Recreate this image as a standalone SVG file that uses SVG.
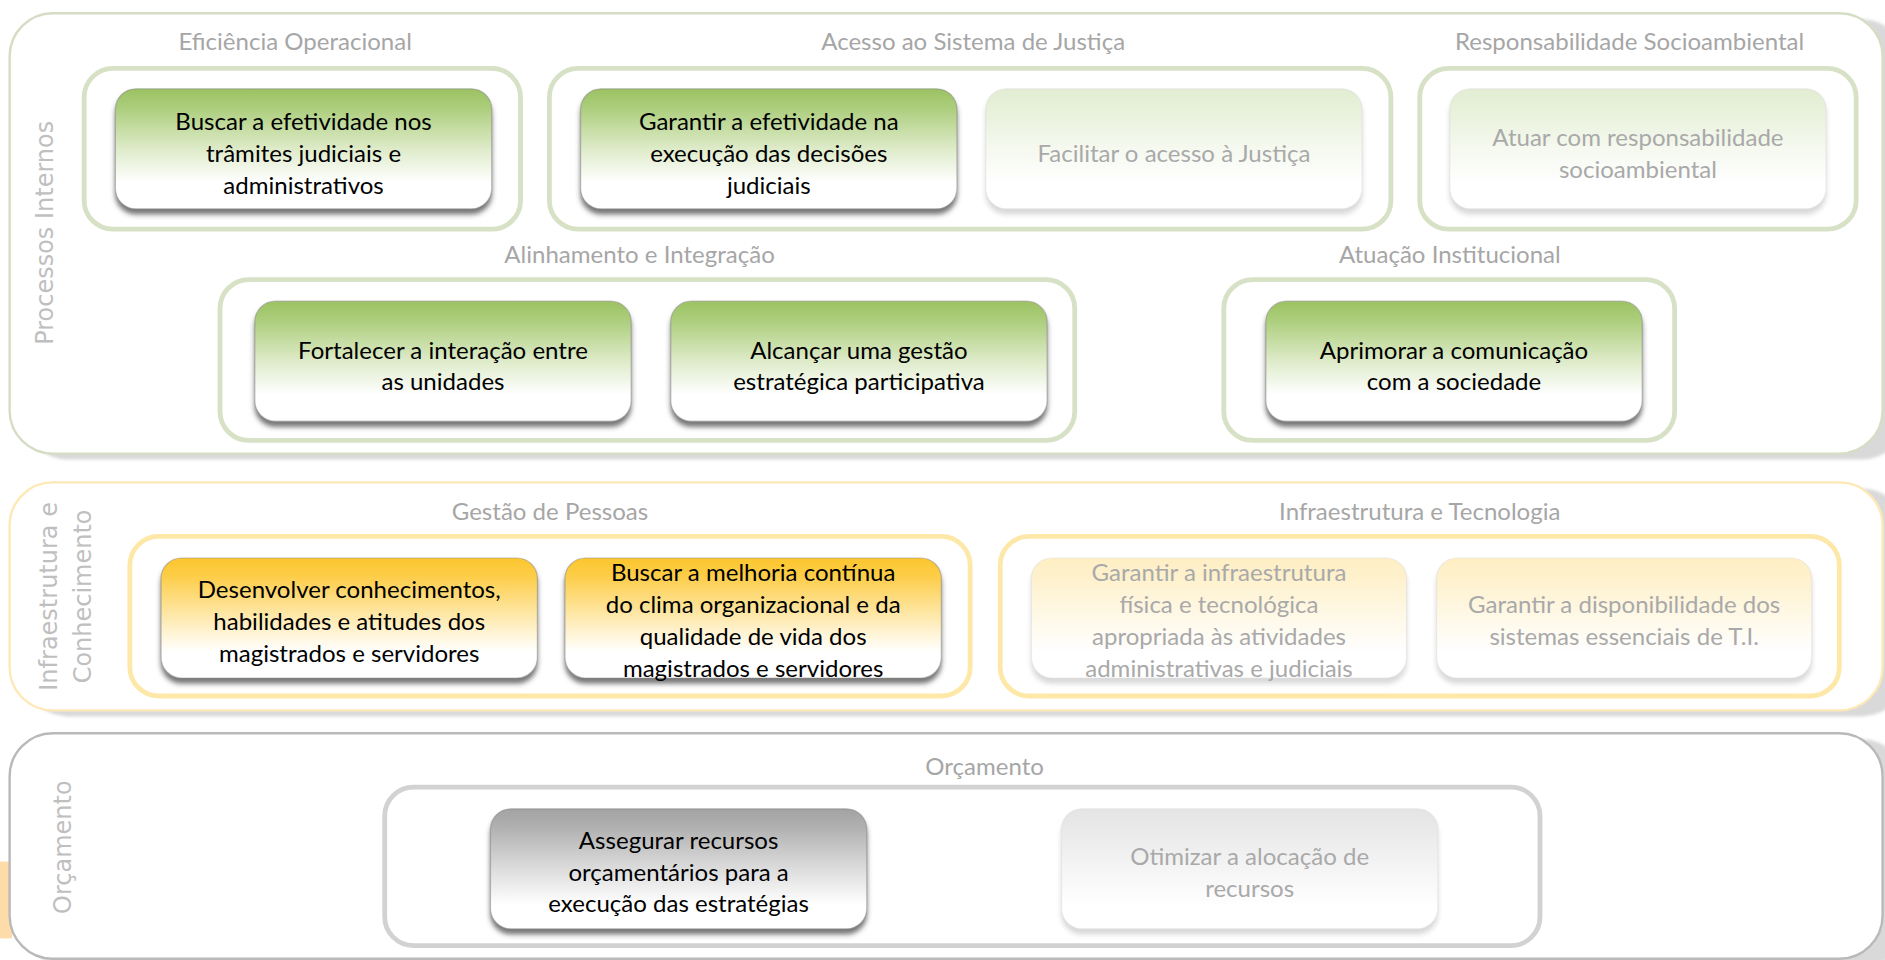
<svg xmlns="http://www.w3.org/2000/svg" width="1885" height="960" viewBox="0 0 1885 960">
<defs>
<linearGradient id="gGreen" x1="0" y1="0" x2="0" y2="1">
<stop offset="0" stop-color="#9cc263"/><stop offset="0.15" stop-color="#abcd7a"/><stop offset="0.5" stop-color="#deebc9"/><stop offset="0.78" stop-color="#ffffff"/><stop offset="1" stop-color="#ffffff"/>
</linearGradient>
<linearGradient id="gYellow" x1="0" y1="0" x2="0" y2="1">
<stop offset="0" stop-color="#fcc62e"/><stop offset="0.15" stop-color="#fdcd48"/><stop offset="0.5" stop-color="#feeab0"/><stop offset="0.78" stop-color="#ffffff"/><stop offset="1" stop-color="#ffffff"/>
</linearGradient>
<linearGradient id="gGray" x1="0" y1="0" x2="0" y2="1">
<stop offset="0" stop-color="#a3a3a3"/><stop offset="0.15" stop-color="#b0b0b0"/><stop offset="0.5" stop-color="#dcdcdc"/><stop offset="0.8" stop-color="#ffffff"/><stop offset="1" stop-color="#ffffff"/>
</linearGradient>
<filter id="nodeShadow" x="-10%" y="-10%" width="120%" height="130%">
<feDropShadow dx="0" dy="4.5" stdDeviation="2.3" flood-color="#3a3a3a" flood-opacity="0.7"/>
</filter>
<filter id="panelShadow" x="-5%" y="-10%" width="110%" height="130%">
<feGaussianBlur stdDeviation="1.5"/>
</filter>
<style>
.panelShadow{fill:#d9d9d9;filter:url(#panelShadow)}
.panel{fill:#ffffff;stroke-width:2}
.pGreen{stroke:#d5ddc4}
.pYellow{stroke:#fde9b6}
.pGray{stroke:#b9b9b9}
.grp{fill:#ffffff;stroke-width:4}
.grpGreen{stroke:#d7e1c5}
.grpYellow{stroke:#fee8a8}
.grpGray{stroke:#d2d2d2}
.node{stroke:#7d7d7d;stroke-opacity:0.45;stroke-width:1;filter:url(#nodeShadow)}
.green{fill:url(#gGreen)}
.yellow{fill:url(#gYellow)}
.gray{fill:url(#gGray)}
.faded{opacity:0.28}
.ntext{font-family:Lato,"Open Sans",sans-serif;font-size:20px;fill:#000000;text-anchor:middle}
.ftext{font-family:Lato,"Open Sans",sans-serif;font-size:20px;fill:#a9a9a9;text-anchor:middle}
.title{font-family:Lato,"Open Sans",sans-serif;font-size:20px;fill:#a6a6a6;text-anchor:middle}
.vlabel{font-family:"DejaVu Sans",Verdana,sans-serif;font-size:20px;fill:#bfbfbf;text-anchor:middle}
</style>
</defs>
<g transform="scale(1.20217 1.2)">
<rect x="0" y="718" width="10" height="64" fill="#fddcaa"/>

<g id="panel-processos">
<rect class="panelShadow" x="20" y="16" width="1565" height="367" rx="36"/>
<rect class="panel pGreen" x="8" y="11" width="1558" height="367" rx="36"/>
<text class="vlabel" transform="translate(44 194) rotate(-90)">Processos Internos</text>
</g>
<g id="panel-infra">
<rect class="panelShadow" x="20" y="407" width="1565" height="190" rx="36"/>
<rect class="panel pYellow" x="8" y="402" width="1558" height="190" rx="36"/>
<text class="vlabel" transform="translate(47 497) rotate(-90)">Infraestrutura e</text>
<text class="vlabel" transform="translate(76 497) rotate(-90)">Conhecimento</text>
</g>
<g id="panel-orcamento">
<rect class="panelShadow" x="20" y="616" width="1565" height="190" rx="36"/>
<rect class="panel pGray" x="8" y="611" width="1558" height="188" rx="36"/>
<text class="vlabel" transform="translate(59 706) rotate(-90)">Orçamento</text>
</g>

<g id="grp-eficiencia">
<rect class="grp grpGreen" x="70" y="57" width="363" height="134" rx="24"/>
<text class="title" x="245.5" y="42">Eficiência Operacional</text>
</g>
<g id="grp-acesso">
<rect class="grp grpGreen" x="457" y="57" width="700" height="134" rx="24"/>
<text class="title" x="809.5" y="42">Acesso ao Sistema de Justiça</text>
</g>
<g id="grp-responsabilidade">
<rect class="grp grpGreen" x="1181" y="57" width="363" height="134" rx="24"/>
<text class="title" x="1355.5" y="42">Responsabilidade Socioambiental</text>
</g>
<g id="grp-alinhamento">
<rect class="grp grpGreen" x="183" y="233" width="711" height="134" rx="24"/>
<text class="title" x="532" y="219">Alinhamento e Integração</text>
</g>
<g id="grp-atuacao">
<rect class="grp grpGreen" x="1018" y="233" width="375" height="134" rx="24"/>
<text class="title" x="1206" y="219">Atuação Institucional</text>
</g>
<g id="grp-pessoas">
<rect class="grp grpYellow" x="108" y="447" width="699" height="133" rx="24"/>
<text class="title" x="457.5" y="433">Gestão de Pessoas</text>
</g>
<g id="grp-tecnologia">
<rect class="grp grpYellow" x="832" y="447" width="698" height="133" rx="24"/>
<text class="title" x="1181" y="433">Infraestrutura e Tecnologia</text>
</g>
<g id="grp-orcamento">
<rect class="grp grpGray" x="320" y="656" width="961" height="132" rx="24"/>
<text class="title" x="819" y="646">Orçamento</text>
</g>

<g id="n1">
<rect class="node green" x="96" y="74" width="313" height="100" rx="17"/>
<text class="ntext" x="252.5" y="108.7">Buscar a efetividade nos</text>
<text class="ntext" x="252.5" y="135">trâmites judiciais e</text>
<text class="ntext" x="252.5" y="161.3">administrativos</text>
</g>
<g id="n2">
<rect class="node green" x="483" y="74" width="313" height="100" rx="17"/>
<text class="ntext" x="639.5" y="108.7">Garantir a efetividade na</text>
<text class="ntext" x="639.5" y="135">execução das decisões</text>
<text class="ntext" x="639.5" y="161.3">judiciais</text>
</g>
<g id="n3">
<rect class="node green faded" x="820" y="74" width="313" height="100" rx="17"/>
<text class="ftext" x="976.5" y="135">Facilitar o acesso à Justiça</text>
</g>
<g id="n4">
<rect class="node green faded" x="1206" y="74" width="313" height="100" rx="17"/>
<text class="ftext" x="1362.5" y="121.8">Atuar com responsabilidade</text>
<text class="ftext" x="1362.5" y="148.2">socioambiental</text>
</g>
<g id="n5">
<rect class="node green" x="212" y="251" width="313" height="100" rx="17"/>
<text class="ntext" x="368.5" y="298.8">Fortalecer a interação entre</text>
<text class="ntext" x="368.5" y="325.2">as unidades</text>
</g>
<g id="n6">
<rect class="node green" x="558" y="251" width="313" height="100" rx="17"/>
<text class="ntext" x="714.5" y="298.8">Alcançar uma gestão</text>
<text class="ntext" x="714.5" y="325.2">estratégica participativa</text>
</g>
<g id="n7">
<rect class="node green" x="1053" y="251" width="313" height="100" rx="17"/>
<text class="ntext" x="1209.5" y="298.8">Aprimorar a comunicação</text>
<text class="ntext" x="1209.5" y="325.2">com a sociedade</text>
</g>
<g id="n8">
<rect class="node yellow" x="134" y="465" width="313" height="100" rx="17"/>
<text class="ntext" x="290.5" y="498.7">Desenvolver conhecimentos,</text>
<text class="ntext" x="290.5" y="525">habilidades e atitudes dos</text>
<text class="ntext" x="290.5" y="551.3">magistrados e servidores</text>
</g>
<g id="n9">
<rect class="node yellow" x="470" y="465" width="313" height="100" rx="17"/>
<text class="ntext" x="626.5" y="484.5">Buscar a melhoria contínua</text>
<text class="ntext" x="626.5" y="511">do clima organizacional e da</text>
<text class="ntext" x="626.5" y="537.5">qualidade de vida dos</text>
<text class="ntext" x="626.5" y="564">magistrados e servidores</text>
</g>
<g id="n10">
<rect class="node yellow faded" x="858" y="465" width="312" height="100" rx="17"/>
<text class="ftext" x="1014" y="484.5">Garantir a infraestrutura</text>
<text class="ftext" x="1014" y="511">física e tecnológica</text>
<text class="ftext" x="1014" y="537.5">apropriada às atividades</text>
<text class="ftext" x="1014" y="564">administrativas e judiciais</text>
</g>
<g id="n11">
<rect class="node yellow faded" x="1195" y="465" width="312" height="100" rx="17"/>
<text class="ftext" x="1351" y="511">Garantir a disponibilidade dos</text>
<text class="ftext" x="1351" y="537.3">sistemas essenciais de T.I.</text>
</g>
<g id="n12">
<rect class="node gray" x="408" y="674" width="313" height="100" rx="17"/>
<text class="ntext" x="564.5" y="707.7">Assegurar recursos</text>
<text class="ntext" x="564.5" y="734">orçamentários para a</text>
<text class="ntext" x="564.5" y="760.3">execução das estratégias</text>
</g>
<g id="n13">
<rect class="node gray faded" x="883" y="674" width="313" height="100" rx="17"/>
<text class="ftext" x="1039.5" y="720.8">Otimizar a alocação de</text>
<text class="ftext" x="1039.5" y="747.2">recursos</text>
</g>
<g id="connectors"/>
</g>
</svg>
